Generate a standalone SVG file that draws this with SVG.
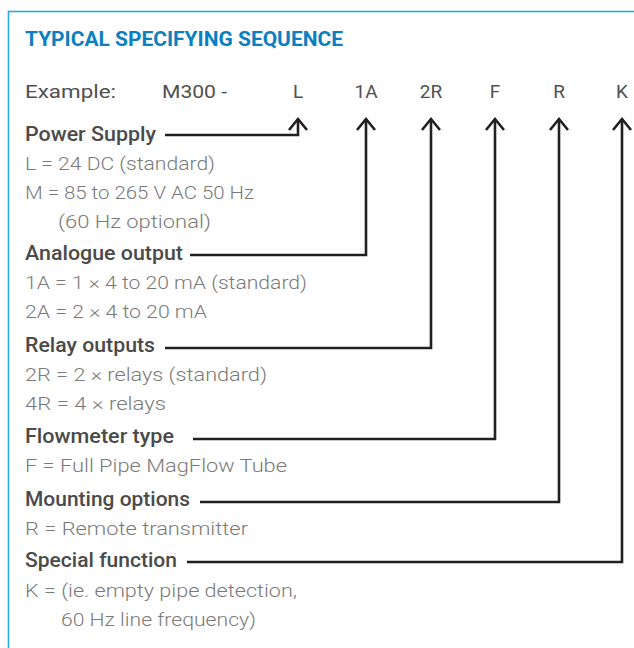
<svg xmlns="http://www.w3.org/2000/svg" width="634" height="648" viewBox="0 0 634 648">
<style>
.frame{fill:#fff;stroke:#29abe2;stroke-width:1.6}
text{font-family:Roboto,"Liberation Sans",sans-serif}
.title{font-weight:700;font-size:19.5px;fill:#0a7fc2}
.ex{font-weight:400;font-size:19px;fill:#505050}
.hd{font-weight:500;font-size:19.5px;fill:#4a4a4a}
.ds{font-weight:300;font-size:19px;fill:#7a7a7a}
.ln{fill:none;stroke:#231f20;stroke-width:2.6;marker-end:url(#chev)}
</style>
<defs>
<marker id="chev" markerUnits="userSpaceOnUse" viewBox="-16 -14 28 28" refX="0" refY="0" markerWidth="28" markerHeight="28" orient="auto" overflow="visible">
<path d="M-11,-9 L0,0 L-11,9" fill="none" stroke="#231f20" stroke-width="2.6"/>
</marker>
</defs>
<rect class="frame" x="8.5" y="11.5" width="640" height="660"/>
<text class="title" x="25" y="46" textLength="318" lengthAdjust="spacingAndGlyphs">TYPICAL SPECIFYING SEQUENCE</text>
<g id="example">
<text class="ex" x="25" y="98" textLength="91" lengthAdjust="spacingAndGlyphs">Example:</text>
<text class="ex" x="162" y="98" textLength="65" lengthAdjust="spacingAndGlyphs">M300 -</text>
<g text-anchor="middle">
<text class="ex" x="298" y="98">L</text>
<text class="ex" x="366" y="98">1A</text>
<text class="ex" x="431" y="98">2R</text>
<text class="ex" x="495" y="98">F</text>
<text class="ex" x="559" y="98">R</text>
<text class="ex" x="622" y="98">K</text>
</g>
</g>
<g id="power-supply">
<text class="hd" x="25" y="141" textLength="131" lengthAdjust="spacingAndGlyphs">Power Supply</text>
<text class="ds" x="25" y="170" textLength="190" lengthAdjust="spacingAndGlyphs">L = 24 DC (standard)</text>
<text class="ds" x="25" y="199" textLength="229" lengthAdjust="spacingAndGlyphs">M = 85 to 265 V AC 50 Hz</text>
<text class="ds" x="58" y="228" textLength="153" lengthAdjust="spacingAndGlyphs">(60 Hz optional)</text>
</g>
<g id="analogue-output">
<text class="hd" x="25" y="260" textLength="158" lengthAdjust="spacingAndGlyphs">Analogue output</text>
<text class="ds" x="25" y="289" textLength="282" lengthAdjust="spacingAndGlyphs">1A = 1 × 4 to 20 mA (standard)</text>
<text class="ds" x="25" y="318" textLength="182" lengthAdjust="spacingAndGlyphs">2A = 2 × 4 to 20 mA</text>
</g>
<g id="relay-outputs">
<text class="hd" x="25" y="352" textLength="130" lengthAdjust="spacingAndGlyphs">Relay outputs</text>
<text class="ds" x="25" y="381" textLength="242" lengthAdjust="spacingAndGlyphs">2R = 2 × relays (standard)</text>
<text class="ds" x="25" y="410" textLength="141" lengthAdjust="spacingAndGlyphs">4R = 4 × relays</text>
</g>
<g id="flowmeter-type">
<text class="hd" x="25" y="443" textLength="149" lengthAdjust="spacingAndGlyphs">Flowmeter type</text>
<text class="ds" x="25" y="472" textLength="262" lengthAdjust="spacingAndGlyphs">F = Full Pipe MagFlow Tube</text>
</g>
<g id="mounting-options">
<text class="hd" x="25" y="506" textLength="165" lengthAdjust="spacingAndGlyphs">Mounting options</text>
<text class="ds" x="25" y="535" textLength="223" lengthAdjust="spacingAndGlyphs">R = Remote transmitter</text>
</g>
<g id="special-function">
<text class="hd" x="25" y="567" textLength="152" lengthAdjust="spacingAndGlyphs">Special function</text>
<text class="ds" x="25" y="597" textLength="272" lengthAdjust="spacingAndGlyphs">K = (ie. empty pipe detection,</text>
<text class="ds" x="61" y="626" textLength="195" lengthAdjust="spacingAndGlyphs">60 Hz line frequency)</text>
</g>
<g id="connectors">
<polyline class="ln" points="165,135 298,135 298,119"/>
<polyline class="ln" points="190,255 366,255 366,119"/>
<polyline class="ln" points="165,348 431,348 431,119"/>
<polyline class="ln" points="193,439 495,439 495,119"/>
<polyline class="ln" points="200,502 559,502 559,119"/>
<polyline class="ln" points="187,562 622,562 622,119"/>
</g>
</svg>
